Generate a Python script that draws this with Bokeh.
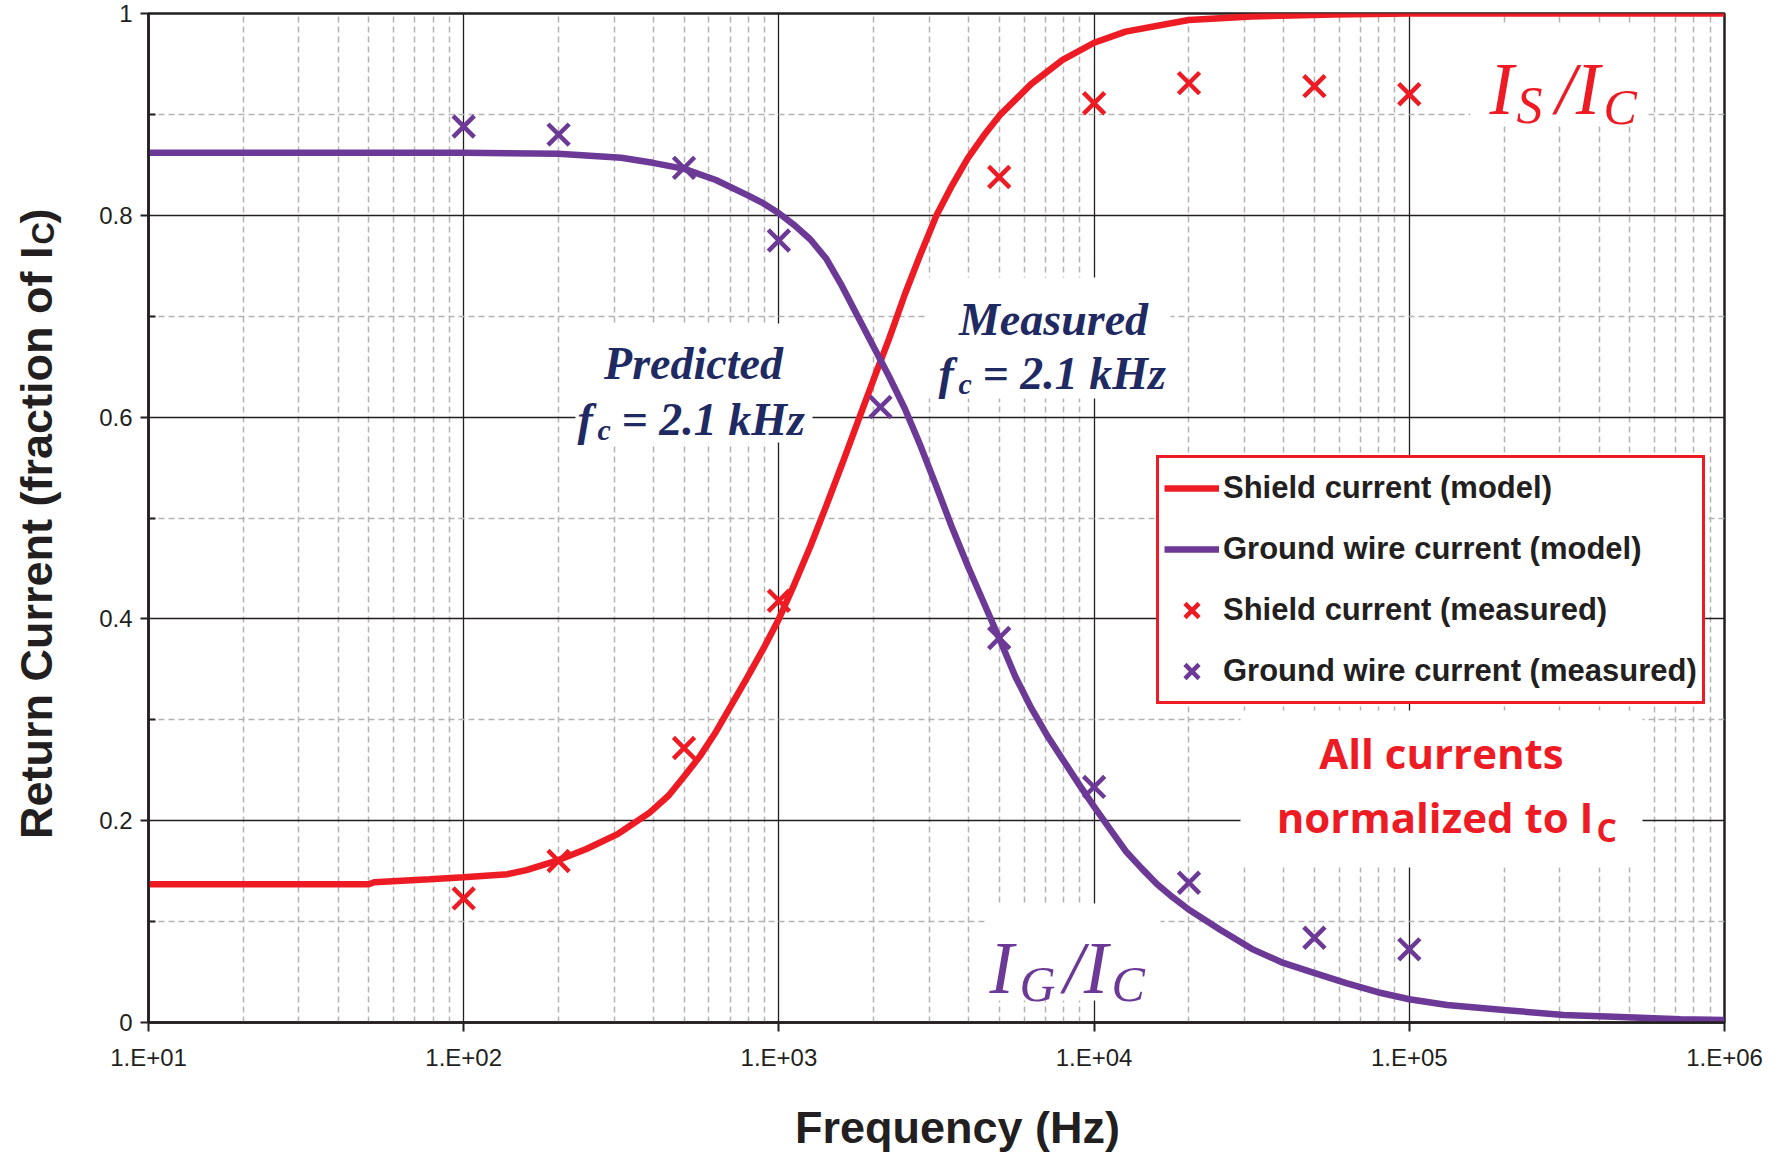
from math import pi
from bokeh.plotting import figure
from bokeh.layouts import row, column
from bokeh.core.properties import value
from bokeh.models import (FixedTicker, Label, Legend, LegendItem, Range1d,
                          BoxAnnotation)
from bokeh.embed import file_html
from bokeh.resources import INLINE

# ---------------- data ----------------
shield_freq = [10, 50, 52, 78, 100, 138, 158, 200, 245, 309, 389, 447, 501, 562,
               631, 708, 794, 891, 1000, 1122, 1259, 1413, 1585, 1778, 1995, 2239,
               2512, 2818, 3162, 3548, 3981, 4467, 5012, 6310, 7943, 10000, 12589,
               19953, 31623, 57500, 100000, 1000000]
shield_model = [0.137, 0.137, 0.139, 0.142, 0.144, 0.147, 0.151, 0.161, 0.172,
                0.187, 0.208, 0.225, 0.244, 0.264, 0.288, 0.315, 0.342, 0.370,
                0.400, 0.435, 0.472, 0.512, 0.553, 0.595, 0.637, 0.678, 0.722,
                0.762, 0.800, 0.830, 0.857, 0.879, 0.899, 0.930, 0.954, 0.971,
                0.982, 0.9935, 0.997, 0.999, 1.0, 1.0]

ground_freq = [10, 100, 200, 316, 398, 501, 631, 794, 891, 1000, 1122, 1259, 1413,
               1585, 1778, 1995, 2239, 2512, 2818, 3162, 3548, 3981, 4467, 5012,
               5623, 6310, 7079, 7943, 8913, 10000, 11220, 12589, 14125, 15849,
               17783, 19953, 25119, 31623, 39811, 50119, 63096, 79433, 100000,
               131826, 199526, 309030, 446684, 724436, 1000000]
ground_model = [0.862, 0.862, 0.861, 0.857, 0.852, 0.846, 0.835, 0.820, 0.812,
                0.802, 0.790, 0.776, 0.757, 0.730, 0.700, 0.670, 0.640, 0.608,
                0.571, 0.531, 0.490, 0.452, 0.416, 0.380, 0.343, 0.312, 0.285,
                0.261, 0.237, 0.214, 0.192, 0.170, 0.153, 0.137, 0.124, 0.112,
                0.092, 0.073, 0.059, 0.049, 0.039, 0.030, 0.023, 0.0173, 0.0124,
                0.0074, 0.0057, 0.0032, 0.0025]

meas_freq_shield = [100, 200, 500, 1000, 5000, 10000, 20000, 50000, 100000]
shield_meas = [0.123, 0.160, 0.272, 0.418, 0.838, 0.911, 0.931, 0.928, 0.920]

meas_freq_ground = [100, 200, 500, 1000, 2100, 5000, 10000, 20000, 50000, 100000]
ground_meas = [0.888, 0.880, 0.847, 0.775, 0.610, 0.381, 0.2335, 0.1385, 0.084, 0.0725]

x_ticks = [10, 100, 1000, 10000, 100000, 1000000]
x_tick_labels = ["1.E+01", "1.E+02", "1.E+03", "1.E+04", "1.E+05", "1.E+06"]
y_ticks = [0, 0.2, 0.4, 0.6, 0.8, 1]
y_tick_labels = ["0", "0.2", "0.4", "0.6", "0.8", "1"]
y_minor = [0.1, 0.3, 0.5, 0.7, 0.9]

series_names = ["Shield current (model)", "Ground wire current (model)",
                "Shield current (measured)", "Ground wire current (measured)"]
x_title = "Frequency (Hz)"
y_title_parts = ["Return Current (fraction of I", "C", ")"]

# ---------------- styling ----------------
RED = "#ED1C24"
PURPLE = "#6C3A96"
NAVY = "#1F2A62"
INK = "#231F20"
GRAY = "#B3B3B3"

W, H = 1784, 1155
LW = 70            # width of the strip holding the y title
FL, FT, FW, FH = 148, 13, 1576, 1009   # frame placement in page pixels
MB = 66            # bottom border of the main plot (tick labels)
MH = FT + FH + MB  # main plot height
BH = H - MH        # height of the strip holding the x title
DY = 14            # baseline correction for rendered texts


def X(px):
    return 10 ** (1 + (px - FL) / (FW / 5))


def Y(py):
    return (FT + FH - py) / FH


p = figure(frame_width=FW, frame_height=FH, x_axis_type="log",
           x_range=Range1d(10, 1e6), y_range=Range1d(0, 1),
           output_backend="svg", toolbar_location=None,
           min_border_left=FL - LW, min_border_right=W - FL - FW,
           min_border_top=FT, min_border_bottom=MB,
           background_fill_color="white", border_fill_color="white")

x_minor = [m * 10 ** k for k in range(1, 6) for m in range(2, 10)]
xt = FixedTicker(ticks=x_ticks, minor_ticks=x_minor)
yt = FixedTicker(ticks=y_ticks, minor_ticks=y_minor)
p.xaxis.ticker = xt
p.yaxis.ticker = yt
p.xgrid.ticker = xt
p.ygrid.ticker = yt
p.xaxis.major_label_overrides = {float(k): v for k, v in zip(x_ticks, x_tick_labels)}
p.yaxis.major_label_overrides = {float(k): v for k, v in zip(y_ticks, y_tick_labels)}

for g in (p.xgrid, p.ygrid):
    g.grid_line_color = INK
    g.grid_line_width = 1.3
    g.minor_grid_line_color = GRAY
    g.minor_grid_line_width = 1.5
    g.minor_grid_line_dash = "6 4"

for ax in (p.xaxis, p.yaxis):
    ax.axis_line_color = INK
    ax.axis_line_width = 2.5
    ax.major_tick_line_color = INK
    ax.major_tick_line_width = 2
    ax.minor_tick_line_color = INK
    ax.minor_tick_line_width = 2
    ax.major_label_text_font = "Liberation Sans"
    ax.major_label_text_font_size = "24px"
    ax.major_label_text_color = INK
    ax.major_tick_in = 0

p.xaxis.major_tick_out = 9
p.xaxis.minor_tick_out = 0
p.xaxis.minor_tick_in = 0
p.xaxis.major_label_standoff = 12
p.yaxis.major_tick_out = 8
p.yaxis.minor_tick_out = 0
p.yaxis.minor_tick_in = 7
p.yaxis.major_label_standoff = 8

p.outline_line_color = INK
p.outline_line_width = 2.5
p.outline_line_alpha = 1.0

# white areas behind the annotations
for (l, r, t, b) in [(1470, 1647, 25, 122), (985, 1160, 903, 1000),
                     (575, 812, 323, 442), (925, 1170, 277, 398),
                     (1240, 1642, 710, 867)]:
    p.add_layout(BoxAnnotation(left=X(l), right=X(r), top=Y(t), bottom=Y(b),
                               fill_color="white", fill_alpha=1.0,
                               line_alpha=0, level="underlay"))

# ---------------- series ----------------
r1 = p.line(shield_freq, shield_model, line_color=RED, line_width=6.5)
r2 = p.line(ground_freq, ground_model, line_color=PURPLE, line_width=6.5)
r3 = p.scatter(meas_freq_shield, shield_meas, marker="x", size=30,
               line_color=RED, line_width=4.5)
r4 = p.scatter(meas_freq_ground, ground_meas, marker="x", size=30,
               line_color=PURPLE, line_width=4.5)

legend = Legend(items=[LegendItem(label=series_names[0], renderers=[r1]),
                       LegendItem(label=series_names[1], renderers=[r2]),
                       LegendItem(label=series_names[2], renderers=[r3]),
                       LegendItem(label=series_names[3], renderers=[r4])],
                location=(1156 - FL, FT + FH - 704))
legend.label_text_font = "Liberation Sans"
legend.label_text_font_style = "bold"
legend.label_text_font_size = "31px"
legend.label_text_color = INK
legend.glyph_width = 55
legend.glyph_height = 50
legend.label_height = 50
legend.label_standoff = 4
legend.spacing = 11
legend.padding = 5
legend.margin = 0
legend.border_line_color = RED
legend.border_line_width = 3
legend.border_line_alpha = 1.0
legend.background_fill_color = "white"
legend.background_fill_alpha = 1.0
p.add_layout(legend)


# ---------------- text annotations inside the plot ----------------
def lab(px, py, text, size, color, font, style="normal", align="left"):
    p.add_layout(Label(x=X(px), y=Y(py - DY), x_units="data", y_units="data",
                       text=text, text_font=font, text_font_size=f"{size}px",
                       text_font_style=style, text_color=color,
                       text_align=align, text_baseline="alphabetic"))


SERIF = "Liberation Serif"
# I_S / I_C
lab(1489, 103, "I", 73, RED, SERIF, "italic")
lab(1516, 119, "S", 52, RED, SERIF, "italic")
lab(1555, 103, "/I", 73, RED, SERIF, "italic")
lab(1603, 120, "C", 50, RED, SERIF, "italic")
# I_G / I_C
lab(989, 982, "I", 73, PURPLE, SERIF, "italic")
lab(1019, 997, "G", 50, PURPLE, SERIF, "italic")
lab(1063, 982, "/I", 73, PURPLE, SERIF, "italic")
lab(1111, 997, "C", 50, PURPLE, SERIF, "italic")
# Predicted
lab(693, 377, "Predicted", 46, NAVY, SERIF, "bold italic", "center")
lab(577, 433, "f", 46, NAVY, SERIF, "bold italic")
lab(597, 443, "c", 30, NAVY, SERIF, "bold italic")
lab(621, 433, "= 2.1 kHz", 46, NAVY, SERIF, "bold italic")
# Measured
lab(1053, 333, "Measured", 46, NAVY, SERIF, "bold italic", "center")
lab(938, 387, "f", 46, NAVY, SERIF, "bold italic")
lab(958, 397, "c", 30, NAVY, SERIF, "bold italic")
lab(982, 387, "= 2.1 kHz", 46, NAVY, SERIF, "bold italic")
# All currents normalized
lab(1441, 766, "All currents", 42, RED, "Open Sans", "bold", "center")
lab(1593, 830, "normalized to I", 42, RED, "Open Sans", "bold", "right")
lab(1596, 843, "C", 32, RED, "Open Sans", "bold")


# ---------------- strips holding the axis titles ----------------
def strip(w, h):
    s = figure(frame_width=w, frame_height=h, x_range=Range1d(0, w),
               y_range=Range1d(0, h), output_backend="svg",
               toolbar_location=None, x_axis_location=None,
               y_axis_location=None, min_border=0,
               background_fill_color="white", border_fill_color="white")
    s.outline_line_color = None
    s.xgrid.visible = False
    s.ygrid.visible = False
    return s


def ytext(s, px, py, text, size, align):
    # rotated text reading upward; px is the wanted baseline position
    s.text(x=[px - DY], y=[MH - py], text=[text], angle=pi / 2,
           text_font=value("Liberation Sans"), text_font_style="bold",
           text_font_size=f"{size}px", text_color=INK, text_align=align,
           text_baseline="alphabetic")


left = strip(LW, MH)
ytext(left, 50, 233, y_title_parts[0], 45, "right")
ytext(left, 57, 231, y_title_parts[1], 31, "left")
ytext(left, 50, 210, y_title_parts[2], 45, "left")

bottom = strip(W, BH)
bottom.text(x=[957], y=[H - 1141 + DY], text=[x_title],
            text_font=value("Liberation Sans"), text_font_style="bold",
            text_font_size="45px", text_color=INK, text_align="center",
            text_baseline="alphabetic")

layout = column(row(left, p), bottom)
open("out.html", "w").write(file_html(layout, INLINE))
